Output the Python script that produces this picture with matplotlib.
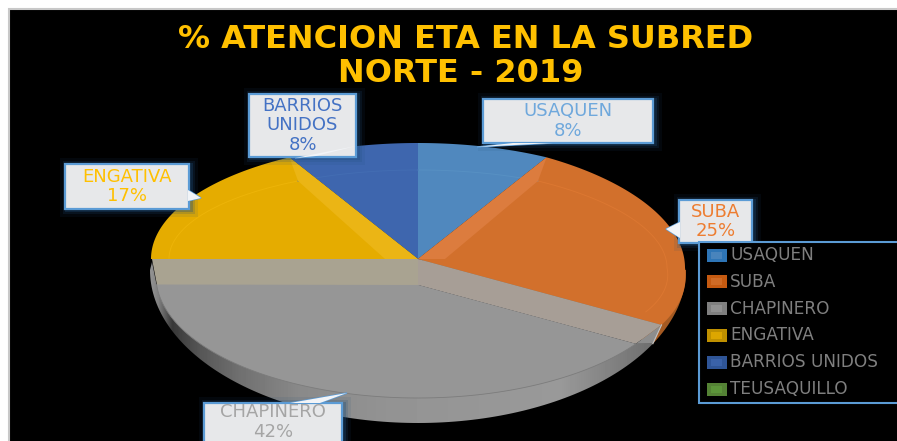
import numpy as np
import matplotlib
matplotlib.use("Agg")
import matplotlib.pyplot as plt
from matplotlib.patches import Polygon, Rectangle

TITLE_LINES = ["% ATENCION ETA EN LA SUBRED", "NORTE - 2019"]
categories = ["USAQUEN", "SUBA", "CHAPINERO", "ENGATIVA", "BARRIOS UNIDOS", "TEUSAQUILLO"]
values = [8, 25, 42, 17, 8, 0]
pct_labels = ["8%", "25%", "42%", "17%", "8%", "0%"]
colors = ["#5088BE", "#D2702C", "#969696", "#E5AC00", "#3E66AE", "#5F9A3C"]
legend_colors = ["#2E75B6", "#C55A11", "#7F7F7F", "#BF9000", "#2F5597", "#548235"]
text_colors = ["#6FA8DC", "#ED7D31", "#A5A5A5", "#FFC000", "#4472C4"]

W, H = 897, 441
fig = plt.figure(figsize=(W / 100, H / 100), dpi=100, facecolor="white")
ax = fig.add_axes([0, 0, 1, 1])
ax.set_xlim(0, W)
ax.set_ylim(H, 0)
ax.axis("off")
FONT = "DejaVu Sans"

ax.add_patch(Rectangle((9, 9), W, H, fc="black", ec="#c8c8c8", lw=1.5, zorder=0))

CX, CY, RX, RY = 418, 259, 267, 116
frac = np.cumsum([0] + values) / sum(values) * 360


def pt(a, cx=CX, cy=CY, rx=RX, ry=RY, warp=False):
    a = np.atleast_1d(np.asarray(a, float))
    r = np.radians(a)
    x = cx + rx * np.sin(r)
    y = cy - ry * np.cos(r)
    if warp:
        y = y + 10 * np.sin(np.radians(np.clip(a - frac[1], 0, 90)))
        x = x + 10 * np.clip((a - 90) / 30, 0, 1)
    return np.column_stack([x, y])


def arc(a0, a1, **k):
    return pt(np.linspace(a0, a1, 120), **k)


def sector(a0, a1, **k):
    c = (k.get("cx", CX), k.get("cy", CY))
    return np.vstack([[c], arc(a0, a1, **k)])


BOT = dict(cy=270, rx=268, ry=153)

# orange side wall
ax.add_patch(Polygon(np.vstack([[(CX, CY)], arc(90, frac[2], **BOT)]), fc="#A55A22", ec="none", zorder=1))

# top faces of the pieces that stay in place
for i in [0, 1, 3, 4]:
    ax.add_patch(Polygon(sector(frac[i], frac[i + 1], warp=(i == 1)), fc=colors[i], ec="none", zorder=2))

# bevel: thin inner line and lighter strips along the radial edges
light = {0: "#5790C3", 1: "#DC7731", 3: "#EDB408", 4: "#436DB3"}
IN = dict(rx=RX - 18, ry=RY - 27)
for i in [0, 1, 3, 4]:
    a = arc(frac[i], frac[i + 1], warp=(i == 1), **IN)
    ax.plot(a[:, 0], a[:, 1], color=light[i], lw=0.7, zorder=3)
for i, edge, base_dx, fill in [(1, frac[1], 27, "#DC7C3E"), (3, frac[4], -33, "#EBB515")]:
    o = pt(edge)[0]
    q = pt(edge, **IN)[0]
    ax.add_patch(Polygon([(CX, CY), o, q, (CX + base_dx, CY)], fc=fill, ec="none", zorder=3))

# cut faces revealed under the exploded slice
OFF = 26
e = pt(frac[2], warp=True)[0]
TOPF = dict(cy=276, rx=262, ry=122)
a0, a1 = frac[2] + 5, frac[3] - 4
c0, c1 = pt(a0, **TOPF)[0], pt(a1, **TOPF)[0]
corner = pt(frac[2], **BOT)[0]
ax.add_patch(Polygon([(152, CY), (CX, CY), (CX, CY + OFF), (c1[0], CY + OFF)], fc="#A9A391", ec="none", zorder=4))
ax.add_patch(Polygon([(CX, CY), e, c0, (CX, CY + OFF)], fc="#A79E96", ec="none", zorder=4))

# exploded slice: wall with a horizontal shading, then top face
bot = arc(frac[2], frac[3], **BOT)
wp = Polygon(np.vstack([[(CX, CY + OFF)], c0[None, :], bot, [(152, CY + 3)], [(c1[0], CY + OFF)]]),
             fc="none", ec="none", zorder=5)
ax.add_patch(wp)
xs = np.array([148, 158, 172, 200, 240, 300, 400, 560, 660])
gs = np.array([0.60, 0.50, 0.22, 0.34, 0.44, 0.54, 0.58, 0.60, 0.42])
shade = np.interp(np.arange(148, 662), xs, gs)[None, :]
im = ax.imshow(shade, extent=(148, 662, 430, 255), cmap="gray", vmin=0, vmax=1, aspect="auto", zorder=5)
im.set_clip_path(wp)
ax.set_xlim(0, W)
ax.set_ylim(H, 0)
face = np.vstack([[(CX, CY + OFF)], arc(a0, a1, **TOPF)])
ax.add_patch(Polygon(face, fc=colors[2], ec="none", zorder=6))
ax.plot(*arc(a0, a1, **TOPF).T, color="#7c7c7c", lw=0.6, zorder=6)
ax.add_patch(Polygon([c0, e, corner], fc="#8d8d8d", ec="none", zorder=6))
ax.plot([e[0], corner[0]], [e[1], corner[1]], color="#c4c4c4", lw=0.8, zorder=6)

# data callouts
EDGE = "#5B9BD5"
FILL = "#E7E8EA"
boxes = {
    0: ((483, 99, 653, 143), [(513, 143), (553, 143), (477, 147)]),
    1: ((679, 200, 752, 243), [(680, 222), (680, 238), (666, 229)]),
    2: ((204, 403, 342, 450), [(290, 403), (320, 403), (347, 393)]),
    3: ((65, 164, 189, 209), [(188, 190), (188, 201), (201, 198)]),
    4: ((249, 94, 356, 157), [(356, 146), (316, 156), (295, 158)]),
}
names = {0: "USAQUEN", 1: "SUBA", 2: "CHAPINERO", 3: "ENGATIVA", 4: "BARRIOS\nUNIDOS"}
for i, ((x0, y0, x1, y1), tail) in boxes.items():
    for g, alpha in [(7, 0.10), (4, 0.18), (2, 0.30)]:
        ax.add_patch(Rectangle((x0 - g + 2, y0 - g + 1), x1 - x0 + 2 * g, y1 - y0 + 2 * g, fc="#1F4E79",
                               alpha=alpha, ec="none", zorder=7))
    ax.add_patch(Polygon(tail, fc="#F2F4F7", ec=EDGE, lw=1, zorder=8))
    ax.add_patch(Rectangle((x0, y0), x1 - x0, y1 - y0, fc=FILL, ec=EDGE, lw=1.6, zorder=8))
    ax.add_patch(Polygon(tail, fc="#F2F4F7", ec="none", zorder=8))
    txt = names[i] + "\n" + pct_labels[i]
    cy = (y0 + y1) / 2 if i != 2 else 422
    ax.text((x0 + x1) / 2, cy, txt, ha="center", va="center", color=text_colors[i],
            fontsize=13, family=FONT, linespacing=1.08, zorder=9)

# legend
ax.add_patch(Rectangle((699, 242), 210, 161, fc="black", ec=EDGE, lw=1.5, zorder=10))
for i, (name, col) in enumerate(zip(categories, legend_colors)):
    y = 255 + i * 26.8
    ax.add_patch(Rectangle((706.5, y - 6.5), 20.5, 13, fc=col, ec="none", zorder=11))
    ax.add_patch(Rectangle((711, y - 3.5), 11, 7, fc=colors[i], alpha=0.8, ec="none", zorder=11))
    ax.text(730, y, name, ha="left", va="center", color="#7F7F7F", fontsize=12.2, family=FONT, zorder=11)

ax.text(465.5, 39, TITLE_LINES[0], ha="center", va="center", color="#FFC000", fontsize=23,
        fontweight="bold", family=FONT, zorder=9)
ax.text(461, 73, TITLE_LINES[1], ha="center", va="center", color="#FFC000", fontsize=23,
        fontweight="bold", family=FONT, zorder=9)

fig.savefig("out.png", dpi=100, facecolor="white")
